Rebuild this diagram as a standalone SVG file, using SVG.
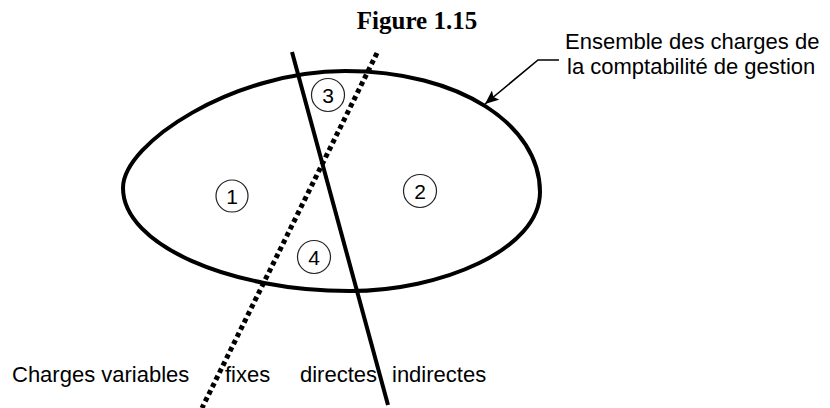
<svg xmlns="http://www.w3.org/2000/svg" width="830" height="408" viewBox="0 0 830 408">
<defs>
<marker id="arr" markerWidth="15" markerHeight="12" refX="14" refY="6" orient="auto" markerUnits="userSpaceOnUse">
<path d="M0,0 L14,6 L0,12 L3,6 Z" fill="#000"/>
</marker>
<style>
.lbl{font-family:"Liberation Sans",Arial,sans-serif;font-size:22px;fill:#000}
.num{font-family:"Liberation Sans",Arial,sans-serif;font-size:21px;fill:#000;text-anchor:middle}
.ring{fill:none;stroke:#222;stroke-width:1.2}
.heavy{fill:none;stroke:#000;stroke-width:4}
</style>
</defs>
<rect width="830" height="408" fill="#fff"/>
<text x="417" y="29" text-anchor="middle" font-family="'Liberation Serif','Times New Roman',serif" font-weight="bold" font-size="25">Figure 1.15</text>
<g id="ensemble">
<path class="heavy" d="M123,188 C123,143 234,71 345,71 C460,71 540,125 540,192 C540,250 440,291 350,291 C230,291 123,245 123,188 Z"/>
</g>
<g id="connectors">
<line x1="292" y1="52" x2="388" y2="405" stroke="#000" stroke-width="4"/>
<line x1="377" y1="53" x2="202" y2="408" stroke="#000" stroke-width="5" stroke-dasharray="4.5 3.5"/>
<polyline points="559,60 538,60 485,104" fill="none" stroke="#000" stroke-width="1.6" marker-end="url(#arr)"/>
</g>
<g id="n1"><circle class="ring" cx="232" cy="196" r="16"/><text class="num" x="232" y="203.5">1</text></g>
<g id="n2"><circle class="ring" cx="420" cy="191" r="16.5"/><text class="num" x="420" y="198.5">2</text></g>
<g id="n3"><circle class="ring" cx="328" cy="95" r="16.5"/><text class="num" x="328" y="102.5">3</text></g>
<g id="n4"><circle class="ring" cx="314" cy="257" r="16.5"/><text class="num" x="314" y="264.5">4</text></g>
<g id="label-ensemble">
<text class="lbl" x="565" y="49">Ensemble des charges de</text>
<text class="lbl" x="567" y="74">la comptabilité de gestion</text>
</g>
<g id="labels-bottom">
<text class="lbl" x="12" y="382">Charges variables</text>
<text class="lbl" x="225" y="382">fixes</text>
<text class="lbl" x="300" y="382">directes</text>
<text class="lbl" x="392" y="382">indirectes</text>
</g>
</svg>
